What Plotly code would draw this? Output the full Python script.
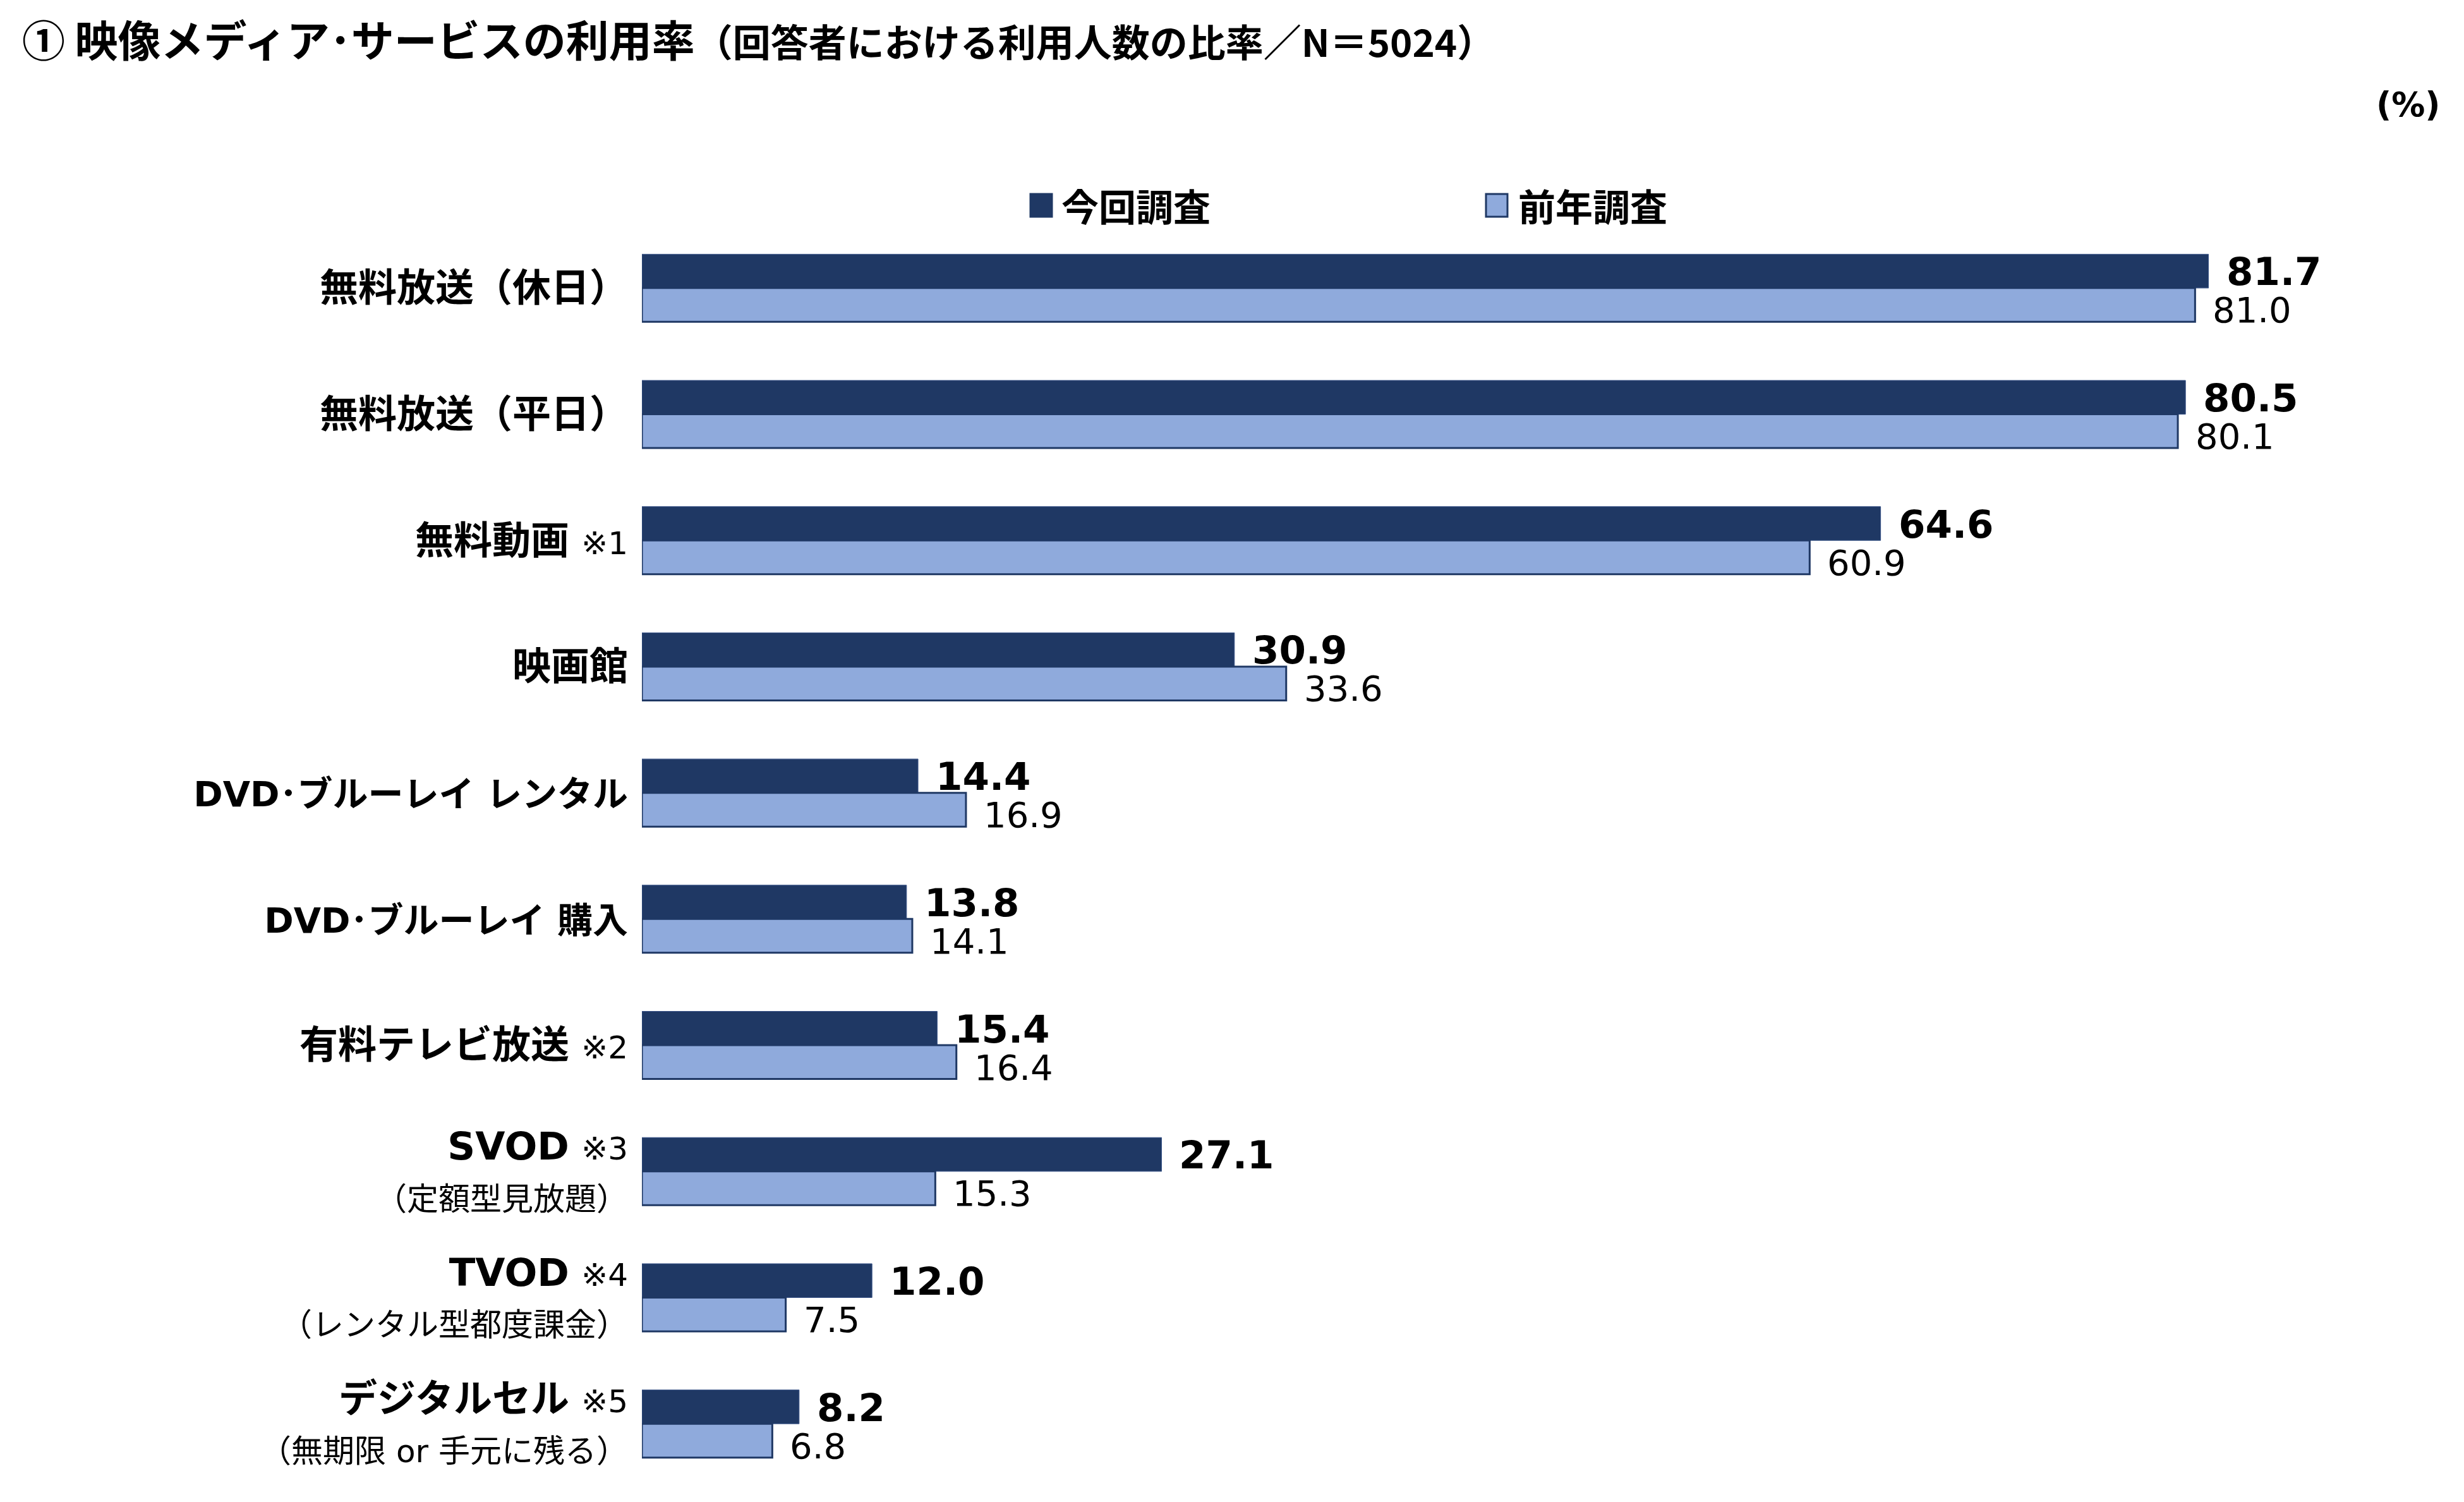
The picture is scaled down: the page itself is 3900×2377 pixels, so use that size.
import plotly.graph_objects as go

categories = [
    "<b>無料放送（休日）</b>",
    "<b>無料放送（平日）</b>",
    "<b>無料動画</b> <span style='font-size:50px'>※1</span>",
    "<b>映画館</b>",
    "<span style='font-size:56px'><b>DVD･ブルーレイ レンタル</b></span>",
    "<span style='font-size:56px'><b>DVD･ブルーレイ 購入</b></span>",
    "<b>有料テレビ放送</b> <span style='font-size:50px'>※2</span>",
    "<b>SVOD</b> <span style='font-size:50px'>※3</span><br><span style='font-size:50px'>（定額型見放題）</span>",
    "<b>TVOD</b> <span style='font-size:50px'>※4</span><br><span style='font-size:50px'>（レンタル型都度課金）</span>",
    "<b>デジタルセル</b> <span style='font-size:50px'>※5</span><br><span style='font-size:50px'>（無期限 or 手元に残る）</span>",
]
series_names = ["今回調査", "前年調査"]
current_values = [81.7, 80.5, 64.6, 30.9, 14.4, 13.8, 15.4, 27.1, 12.0, 8.2]
previous_values = [81.0, 80.1, 60.9, 33.6, 16.9, 14.1, 16.4, 15.3, 7.5, 6.8]

DARK = "#1F3864"
LIGHT = "#8FAADC"
W, H = 3884, 2361
L, R, T, B = 1008, 96, 348, 16
PW, PH = W - L - R, H - T - B
PX_PER_UNIT = 30.35


def px_x(px):
    return (px - L) / PW


def px_y(py):
    return 1 + (T - py) / PH


fig = go.Figure()
fig.add_trace(go.Bar(
    y=categories, x=current_values, orientation="h", name=series_names[0],
    marker=dict(color=DARK, line=dict(color="#3A5488", width=1)),
    showlegend=False, hoverinfo="skip",
))
fig.add_trace(go.Bar(
    y=categories, x=previous_values, orientation="h", name=series_names[1],
    marker=dict(color=LIGHT, line=dict(color=DARK, width=3)),
    showlegend=False, hoverinfo="skip",
))

annotations = []
for c, v in zip(categories, current_values):
    annotations.append(dict(
        x=v, y=c, xref="x", yref="y", text=f"<b>{v:.1f}</b>", showarrow=False,
        xanchor="left", yanchor="middle", xshift=26, yshift=26,
        font=dict(family="DejaVu Sans", size=61, color="black"),
    ))
for c, v in zip(categories, previous_values):
    annotations.append(dict(
        x=v, y=c, xref="x", yref="y", text=f"{v:.1f}", showarrow=False,
        xanchor="left", yanchor="middle", xshift=26, yshift=-35,
        font=dict(family="DejaVu Sans", size=56, color="black"),
    ))

# percent unit
annotations.append(dict(
    x=px_x(3857), y=px_y(158), xref="paper", yref="paper", text="<b>(%)</b>",
    showarrow=False, xanchor="right", yanchor="middle",
    font=dict(family="DejaVu Sans", size=53, color="black"),
))

# custom legend (swatch + label)
legend_items = [
    (series_names[0], DARK, DARK, 1623, 1670),
    (series_names[1], LIGHT, DARK, 2344, 2393),
]
shapes = []
for name, fill, line, sx, tx in legend_items:
    shapes.append(dict(
        type="rect", xref="paper", yref="paper",
        x0=px_x(sx), x1=px_x(sx + 34), y0=px_y(335), y1=px_y(299),
        fillcolor=fill, line=dict(color=line, width=3),
    ))
    annotations.append(dict(
        x=px_x(tx), y=px_y(317), xref="paper", yref="paper", text=f"<b>{name}</b>",
        showarrow=False, xanchor="left", yanchor="middle",
        font=dict(family="Noto Sans CJK JP", size=59, color="black"),
    ))

fig.update_layout(
    width=W, height=H,
    margin=dict(l=L, r=R, t=T, b=B),
    paper_bgcolor="white", plot_bgcolor="white",
    barmode="group", bargap=0.464, bargroupgap=0,
    title=dict(
        text="<b>① 映像メディア･サービスの利用率</b><b><span style='font-size:60px'>（回答者における利用人数の比率／N＝5024）</span></b>",
        x=27 / W, xanchor="left", xref="container",
        y=1 - 58 / H, yanchor="middle", yref="container",
        font=dict(family="Noto Sans CJK JP", size=68, color="black"),
    ),
    xaxis=dict(range=[0, PW / PX_PER_UNIT], visible=False, fixedrange=True),
    yaxis=dict(
        autorange="reversed", showgrid=False, zeroline=False, showline=False,
        ticks="", ticklabelstandoff=21,
        tickfont=dict(family="DejaVu Sans, Noto Sans CJK JP", size=61, color="black"),
    ),
    annotations=annotations, shapes=shapes,
    font=dict(family="Noto Sans CJK JP", color="black"),
)

fig.write_html("out.html")
